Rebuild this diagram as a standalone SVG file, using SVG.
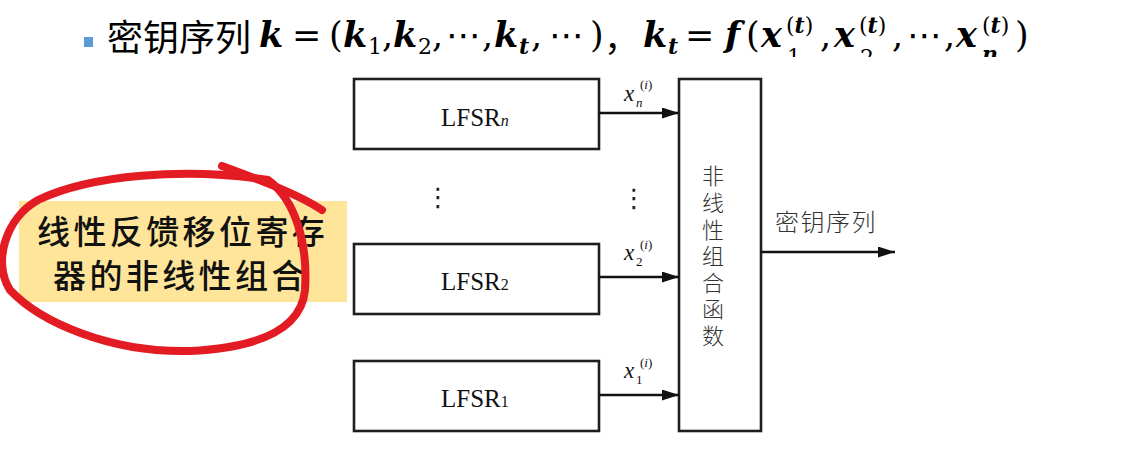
<svg xmlns="http://www.w3.org/2000/svg" width="1143" height="452" viewBox="0 0 1143 452">
<style>
.box{fill:#fff;stroke:#1e1e1e;stroke-width:2.6}
.conn{stroke:#111;stroke-width:2.4;fill:none}
.cjk{font-family:"Noto Sans CJK SC",sans-serif}
.lf{font-family:"Liberation Serif",serif;font-size:25px;fill:#111}
.lfs{font-size:16px}
.lbl{font-family:"Liberation Serif",serif;font-style:italic;fill:#111}
.ser{font-family:"Liberation Serif",serif;fill:#111}
.m{font-family:"DejaVu Serif","DejaVu Sans",serif;font-size:35px;fill:#000}
.mb{font-weight:bold;font-style:italic}
.ms{font-size:22px}
.dots{font-family:"DejaVu Sans",sans-serif;font-size:26px;fill:#222}
</style>
<defs>
<marker id="ah" markerWidth="17" markerHeight="11" refX="17" refY="5.5" orient="auto" markerUnits="userSpaceOnUse">
<path d="M0,0 L17,5.5 L0,11 Z" fill="#111"/>
</marker>
<clipPath id="tclip"><rect x="0" y="0" width="1143" height="57"/></clipPath>
</defs>
<rect width="1143" height="452" fill="#fff"/>

<g id="title" clip-path="url(#tclip)">
<rect x="84" y="37" width="9" height="10" fill="#5B9BD5"/>
<text class="m" y="47"><tspan class="cjk" x="107" y="51" font-size="36">密钥序列</tspan><tspan class="mb" x="259" y="47">k</tspan><tspan x="292">=</tspan><tspan x="329">(</tspan><tspan class="mb" x="343">k</tspan><tspan class="ms" x="368" y="54">1</tspan><tspan x="382" y="47">,</tspan><tspan class="mb" x="393">k</tspan><tspan class="ms" x="418" y="54">2</tspan><tspan x="432" y="47">,</tspan><tspan x="446">⋯</tspan><tspan x="482">,</tspan><tspan class="mb" x="494">k</tspan><tspan class="mb ms" x="519" y="54">t</tspan><tspan x="531" y="47">,</tspan><tspan x="549">⋯</tspan><tspan x="590">)</tspan><tspan class="cjk" x="604" y="51">，</tspan><tspan class="mb" x="643" y="47">k</tspan><tspan class="mb ms" x="668" y="54">t</tspan><tspan x="685" y="47">=</tspan><tspan class="mb" x="725">f</tspan><tspan x="746">(</tspan><tspan class="mb" x="761">x</tspan><tspan class="ms" x="786" y="33">(</tspan><tspan class="mb ms">t</tspan><tspan class="ms">)</tspan><tspan class="ms" x="787" y="65">1</tspan><tspan x="820" y="47">,</tspan><tspan class="mb" x="834">x</tspan><tspan class="ms" x="859" y="33">(</tspan><tspan class="mb ms">t</tspan><tspan class="ms">)</tspan><tspan class="ms" x="860" y="65">2</tspan><tspan x="892" y="47">,</tspan><tspan x="907">⋯</tspan><tspan x="944">,</tspan><tspan class="mb" x="956">x</tspan><tspan class="ms" x="982" y="33">(</tspan><tspan class="mb ms">t</tspan><tspan class="ms">)</tspan><tspan class="mb ms" x="982" y="62">n</tspan><tspan x="1015" y="47">)</tspan></text>
</g>

<g id="note">
<rect x="19" y="201" width="328" height="101" fill="#FFE599"/>
<text class="cjk" x="37" y="244" font-size="33" font-weight="500" letter-spacing="3.4" fill="#111">线性反馈移位寄存</text>
<text class="cjk" x="53" y="288" font-size="33" font-weight="500" letter-spacing="3.4" fill="#111">器的非线性组合</text>
<path d="M268,180 C296,200 308,245 305,290 C302,322 272,347 190,351 C110,353 40,322 10,290 C-8,262 6,218 38,200 C90,175 185,167 268,180" fill="none" stroke="#E31B23" stroke-width="8" stroke-linecap="round"/>
<path d="M222,166 C260,180 300,195 322,210" fill="none" stroke="#E31B23" stroke-width="8" stroke-linecap="round"/>
</g>

<g id="lfsr-n">
<rect class="box" x="354" y="79" width="245" height="70"/>
<text class="lf" x="441" y="126">LFSR<tspan class="lfs" font-style="italic">n</tspan></text>
</g>
<g id="lfsr-2">
<rect class="box" x="354" y="244" width="245" height="70"/>
<text class="lf" x="441" y="290">LFSR<tspan class="lfs">2</tspan></text>
</g>
<g id="lfsr-1">
<rect class="box" x="354" y="361" width="245" height="70"/>
<text class="lf" x="441" y="407">LFSR<tspan class="lfs">1</tspan></text>
</g>
<g id="ellipsis-left"><text class="dots" x="438" y="206" text-anchor="middle">⋮</text></g>
<g id="ellipsis-right"><text class="dots" x="634" y="207" text-anchor="middle">⋮</text></g>

<g id="combiner">
<rect class="box" x="679" y="79" width="82" height="352"/>
<text class="cjk" x="713" y="165" font-size="22" font-weight="300" fill="#333" writing-mode="vertical-rl" letter-spacing="4.6">非线性组合函数</text>
</g>

<g id="connectors">
<line class="conn" x1="599" y1="113" x2="679" y2="113" marker-end="url(#ah)"/>
<line class="conn" x1="599" y1="277" x2="679" y2="277" marker-end="url(#ah)"/>
<line class="conn" x1="599" y1="395" x2="679" y2="395" marker-end="url(#ah)"/>
<line class="conn" x1="761" y1="252" x2="895" y2="252" marker-end="url(#ah)"/>
<text class="lbl" x="624" y="101" font-size="23">x</text><text class="lbl" x="636" y="107" font-size="13">n</text><text class="ser" x="640" y="89" font-size="13">(<tspan font-style="italic">i</tspan>)</text>
<text class="lbl" x="624" y="260" font-size="23">x</text><text class="ser" x="636" y="266" font-size="13">2</text><text class="ser" x="640" y="249" font-size="13">(<tspan font-style="italic">i</tspan>)</text>
<text class="lbl" x="624" y="378" font-size="23">x</text><text class="ser" x="636" y="384" font-size="13">1</text><text class="ser" x="640" y="367" font-size="13">(<tspan font-style="italic">i</tspan>)</text>
<text class="cjk" x="775" y="231" font-size="24" font-weight="300" letter-spacing="1.5" fill="#333">密钥序列</text>
</g>
</svg>
